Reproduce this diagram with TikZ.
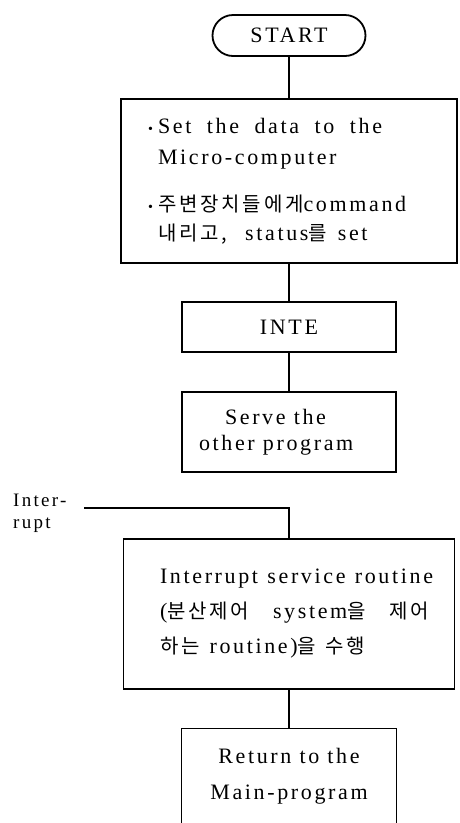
\documentclass[tikz,border=0pt]{standalone}
\usepackage{fontspec}
\setmainfont{Liberation Serif}[LetterSpace=12]
\newfontfamily\krfont{Noto Sans CJK KR}[LetterSpace=14]
\newcommand\kor[1]{{\krfont\fontsize{20}{31}\selectfont #1}}
\newcommand\bul{\llap{{\fontsize{14}{14}\selectfont\textbullet}\kern5pt}}
\newcommand\lnbox[2]{\makebox[#1][l]{#2}}
\usetikzlibrary{shapes.misc}
\tikzset{
  every node/.style={font=\fontsize{22}{31}\selectfont, inner sep=0pt},
  box/.style={draw, line width=1.8pt, rectangle},
  term/.style={draw, line width=1.8pt, rounded rectangle},
  conn/.style={line width=1.8pt},
}
\begin{document}
\begin{tikzpicture}[x=1pt,y=-1pt]
\useasboundingbox (0,0) rectangle (460,823);
\node[term, minimum width=153pt, minimum height=41pt] (start) at (289,35.5) {START};
\node[box, minimum width=336pt, minimum height=164pt, align=left] (set) at (289,181)
 {\lnbox{262pt}{\bul\makebox[224pt][s]{Set the data to the}}\\
  \lnbox{262pt}{Micro-computer}\\[16pt]
  \lnbox{262pt}{\bul\kor{주변장치들에게}command}\\[-2pt]
  \lnbox{262pt}{\kor{내리고,}\hspace{18pt}status\kor{를}\hspace{11pt}set}};
\node[box, minimum width=214pt, minimum height=50pt] (inte) at (289,327) {INTE};
\node[box, minimum width=214pt, minimum height=80pt, align=left, font=\fontsize{22}{26}\selectfont] (serve) at (289,432)
 {\lnbox{180pt}{\hspace*{26pt}Serve the}\\\lnbox{180pt}{other program}};
\node[font=\fontsize{19}{22}\selectfont, align=left, anchor=north west] (irqlabel) at (13,494) {Inter-\\rupt};
\coordinate (irq) at (84,508);
\node[box, minimum width=331pt, minimum height=150pt, align=left, font=\fontsize{22}{35}\selectfont] (isr) at (289,614)
 {\lnbox{258pt}{\makebox[273pt][s]{Interrupt service routine}}\\
  \lnbox{258pt}{\makebox[269pt][s]{(\kor{분산제어} system\kor{을} \kor{제어}}}\\
  \lnbox{258pt}{\kor{하는}\hspace{10pt}routine)\kor{을}\hspace{9pt}\kor{수행}}};
\node[box, minimum width=215pt, minimum height=95pt, align=center, font=\fontsize{22}{36}\selectfont] (ret) at (289,776)
 {Return to the\\Main-program};
\draw[conn] (start) -- (set);
\draw[conn] (set) -- (inte);
\draw[conn] (inte) -- (serve);
\draw[conn] (irq) -| (isr.north);
\draw[conn] (isr) -- (ret);
\end{tikzpicture}
\end{document}
